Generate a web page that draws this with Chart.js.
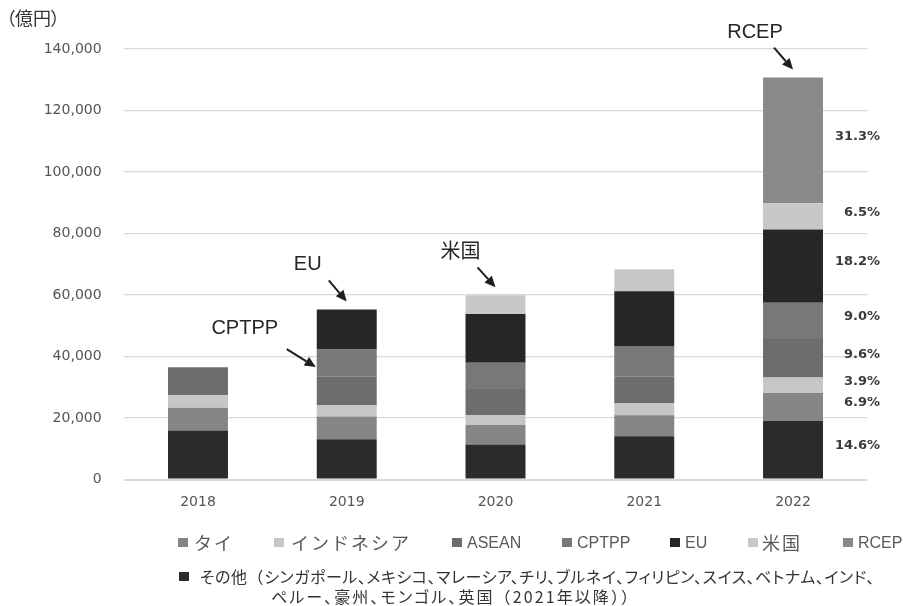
<!DOCTYPE html>
<html><head><meta charset="utf-8">
<script src="https://cdn.jsdelivr.net/npm/chart.js@4.4.1/dist/chart.umd.min.js"></script>
<style>
html,body{margin:0;padding:0;background:#fff;}
#wrap{position:relative;width:903px;height:606px;overflow:hidden;background:#fff;}
canvas{position:absolute;left:0;top:0;}
.sq{position:absolute;width:10px;height:9px;}
.lt{position:absolute;white-space:nowrap;line-height:20px;height:20px;}
.jp1{font-family:"Noto Sans CJK JP";font-size:18px;letter-spacing:2px;color:#595959;}
.en1{font-family:"Liberation Sans";font-size:16px;color:#595959;}
.jp2{font-family:"Noto Sans CJK JP";font-size:16px;font-feature-settings:"palt";color:#333;}
.jp2 .fw{font-feature-settings:normal;}
#unit{position:absolute;left:6px;top:7px;font-family:"Noto Sans CJK JP";font-size:18px;font-feature-settings:"palt";color:#333;line-height:20px;white-space:nowrap;}
</style></head><body>
<div id="wrap">
<canvas id="c" width="903" height="606"></canvas>
<div id="unit">（億円）</div>
<div id="legend"></div>
</div>
<script>
// ---- data ----
const categories = ['2018', '2019', '2020', '2021', '2022'];
const seriesNames = ['その他', 'タイ', 'インドネシア', 'ASEAN', 'CPTPP', 'EU', '米国', 'RCEP'];
const sonota    = [15900, 13100, 11400, 14100, 19100];
const thai      = [7400, 7400, 6300, 6800, 9000];
const indonesia = [4100, 3700, 3300, 4000, 5100];
const asean     = [9100, 9200, 8400, 8500, 12500];
const cptpp     = [null, 8900, 8600, 10000, 11800];
const eu        = [null, 13000, 15800, 17800, 23800];
const usa       = [null, null, 6100, 7200, 8500];
const rcep      = [null, null, null, null, 40900];
const share2022 = ['14.6%', '6.9%', '3.9%', '9.6%', '9.0%', '18.2%', '6.5%', '31.3%'];
const yTicks    = [0, 20000, 40000, 60000, 80000, 100000, 120000, 140000];
const legendOrder = ['タイ', 'インドネシア', 'ASEAN', 'CPTPP', 'EU', '米国', 'RCEP'];
const otherLegendLine1 = 'その他（シンガポール、メキシコ、マレーシア、チリ、ブルネイ、フィリピン、スイス、ベトナム、インド、';
const otherLegendLine2 = 'ペルー、豪州、モンゴル、英国（2021年以降））';
const annotations = [
  {text: 'CPTPP', series: 'CPTPP', cat: '2019'},
  {text: 'EU', series: 'EU', cat: '2019'},
  {text: '米国', series: '米国', cat: '2020'},
  {text: 'RCEP', series: 'RCEP', cat: '2022'}
];

// ---- styles ----
const colors = {
  'その他': '#2b2b2b', 'タイ': '#858585', 'インドネシア': '#c6c6c6', 'ASEAN': '#6d6d6d',
  'CPTPP': '#787878', 'EU': '#262626', '米国': '#c8c8c8', 'RCEP': '#898989'
};
const annoStyle = {
  'CPTPP': {anchor: 'left', dx: -29, dy: -18, tx: -42, ty: -21},
  'EU':    {anchor: 'top', dx: -18, dy: -21, tx: -21, ty: -16},
  '米国':  {anchor: 'top', dx: -18, dy: -20, tx: -17, ty: -15},
  'RCEP':  {anchor: 'top', dx: -19, dy: -22, tx: -19, ty: -15}
};
const legendLayout = {
  'タイ': [178, 194, 'jp1'], 'インドネシア': [274, 291, 'jp1'], 'ASEAN': [452, 467, 'en1'],
  'CPTPP': [562, 577, 'en1'], 'EU': [670, 685, 'en1'], '米国': [748, 762, 'jp1'], 'RCEP': [843, 858, 'en1']
};

const seriesData = [sonota, thai, indonesia, asean, cptpp, eu, usa, rcep];

// ---- legend (HTML) ----
function fillWithParens(el, text) {
  for (const part of text.split(/([（）])/)) {
    if (!part) continue;
    if (part === '（' || part === '）') {
      const sp = document.createElement('span'); sp.className = 'fw'; sp.textContent = part; el.appendChild(sp);
    } else el.appendChild(document.createTextNode(part));
  }
}
const lg = document.getElementById('legend');
legendOrder.forEach(name => {
  const [sx, tx, cls] = legendLayout[name];
  const s = document.createElement('div');
  s.className = 'sq'; s.style.left = sx + 'px'; s.style.top = '538px'; s.style.background = colors[name];
  lg.appendChild(s);
  const t = document.createElement('div');
  t.className = 'lt ' + cls; t.style.left = tx + 'px'; t.style.top = cls === 'en1' ? '533px' : '532px'; t.textContent = name;
  lg.appendChild(t);
});
{
  const s = document.createElement('div');
  s.className = 'sq'; s.style.left = '179px'; s.style.top = '572px'; s.style.background = colors['その他'];
  lg.appendChild(s);
  const t1 = document.createElement('div');
  t1.className = 'lt jp2'; t1.style.left = '200px'; t1.style.top = '566px'; t1.style.letterSpacing = '0.55px';
  fillWithParens(t1, otherLegendLine1);
  lg.appendChild(t1);
  const t2 = document.createElement('div');
  t2.className = 'lt jp2'; t2.style.left = '271px'; t2.style.top = '586px'; t2.style.letterSpacing = '2.1px';
  fillWithParens(t2, otherLegendLine2);
  lg.appendChild(t2);
}

// ---- plugin: share labels + arrows ----
function drawArrow(ctx, x1, y1, x2, y2) {
  const ang = Math.atan2(y2 - y1, x2 - x1);
  const hl = 11, hw = 5;
  const bx = x2 - hl * Math.cos(ang), by = y2 - hl * Math.sin(ang);
  ctx.beginPath();
  ctx.moveTo(x1, y1); ctx.lineTo(bx, by);
  ctx.lineWidth = 2; ctx.strokeStyle = '#1e1e1e'; ctx.stroke();
  ctx.beginPath();
  ctx.moveTo(x2, y2);
  ctx.lineTo(bx + hw * Math.sin(ang), by - hw * Math.cos(ang));
  ctx.lineTo(bx - hw * Math.sin(ang), by + hw * Math.cos(ang));
  ctx.closePath(); ctx.fillStyle = '#1e1e1e'; ctx.fill();
}
const annoPlugin = {
  id: 'anno',
  afterDatasetsDraw(chart) {
    const ctx = chart.ctx;
    const last = categories.length - 1;
    ctx.save();
    ctx.font = 'bold 13px "DejaVu Sans"';
    ctx.fillStyle = '#3a3a3a';
    ctx.textAlign = 'right'; ctx.textBaseline = 'middle';
    chart.data.datasets.forEach((ds, i) => {
      const el = chart.getDatasetMeta(i).data[last];
      if (!el) return;
      const y = (el.y + el.base) / 2 - 4;
      ctx.fillText(share2022[i], el.x + el.width / 2 + 57, y);
    });
    annotations.forEach(a => {
      const st = annoStyle[a.text];
      const di = seriesNames.indexOf(a.series);
      const ci = categories.indexOf(a.cat);
      const el = chart.getDatasetMeta(di).data[ci];
      let tip;
      if (st.anchor === 'top') tip = {x: el.x, y: el.y - 8};
      else tip = {x: el.x - el.width / 2 - 1, y: (el.y + el.base) / 2 + 4};
      const tail = {x: tip.x + st.dx, y: tip.y + st.dy};
      drawArrow(ctx, tail.x, tail.y, tip.x, tip.y);
      ctx.font = '20px "Liberation Sans", "Noto Sans CJK JP"';
      ctx.fillStyle = '#262626';
      ctx.textAlign = 'center'; ctx.textBaseline = 'middle';
      ctx.fillText(a.text, tail.x + st.tx, tail.y + st.ty);
    });
    ctx.restore();
  }
};

new Chart(document.getElementById('c'), {
  type: 'bar',
  data: {
    labels: categories,
    datasets: seriesNames.map((n, i) => ({
      label: n, data: seriesData[i], backgroundColor: colors[n],
      borderWidth: 0, barPercentage: 0.403, categoryPercentage: 1.0
    }))
  },
  options: {
    responsive: false, animation: false, devicePixelRatio: 1,
    layout: {padding: {top: 49, left: 0, right: 35.6, bottom: 0}},
    plugins: {legend: {display: false}, tooltip: {enabled: false}},
    scales: {
      x: {
        stacked: true,
        grid: {display: false, drawTicks: false},
        border: {display: false},
        ticks: {font: {family: 'DejaVu Sans', size: 14}, color: '#555555', padding: 14},
        afterFit(s) { s.height = 606 - 479.5; }
      },
      y: {
        stacked: true, min: 0, max: 140000,
        afterBuildTicks(s) { s.ticks = yTicks.map(v => ({value: v})); },
        grid: {color: '#d9d9d9', lineWidth: c => (c.tick && c.tick.value === 0 ? 2 : 1.3), drawTicks: false},
        border: {display: false},
        ticks: {
          font: {family: 'DejaVu Sans', size: 14}, color: '#555555', padding: 22,
          callback: v => v.toLocaleString('en-US')
        },
        afterFit(s) { s.width = 123.6; }
      }
    }
  },
  plugins: [annoPlugin]
});
</script>
</body></html>
